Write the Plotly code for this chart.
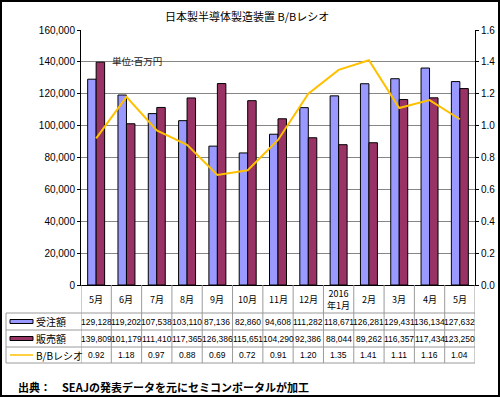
import plotly.graph_objects as go

months = ["5月", "6月", "7月", "8月", "9月", "10月", "11月", "12月",
          "2016年1月", "2月", "3月", "4月", "5月 "]
month_labels = ["5月", "6月", "7月", "8月", "9月", "10月", "11月", "12月",
                "2016<br>年1月", "2月", "3月", "4月", "5月"]
orders = [129128, 119202, 107538, 103110, 87136, 82860, 94608, 111282,
          118671, 126281, 129431, 136134, 127632]
sales = [139809, 101179, 111410, 117365, 126386, 115651, 104290, 92386,
         88044, 89262, 116357, 117434, 123250]
bb_ratio = [0.92, 1.18, 0.97, 0.88, 0.69, 0.72, 0.91, 1.20,
            1.35, 1.41, 1.11, 1.16, 1.04]

W, H = 500, 397
def px(x):
    return x / W
def py(y):
    return 1 - y / H

BLUE = "#9999FF"
MAROON = "#993366"
GOLD = "#FFC000"
GRID = "#868686"
TBL = "#9a9a9a"
FONT = "Liberation Sans, Arial, sans-serif"
JFONT = "Noto Sans CJK JP, sans-serif"

fig = go.Figure()
fig.add_trace(go.Bar(x=months, y=orders, name="受注額",
                     marker=dict(color=BLUE, line=dict(color="black", width=1))))
fig.add_trace(go.Bar(x=months, y=sales, name="販売額",
                     marker=dict(color=MAROON, line=dict(color="black", width=1))))
fig.add_trace(go.Scatter(x=months, y=bb_ratio, name="B/Bレシオ", yaxis="y2",
                         mode="lines", line=dict(color=GOLD, width=2)))

plot_top, plot_bot = 30, 285
row_y = [285, 313, 330, 347, 363]
x_left, x_right = 81, 475
tbl_left = 6

shapes = []
# outer border
shapes.append(dict(type="rect", xref="paper", yref="paper", x0=0.002, x1=0.998,
                   y0=0.0025, y1=0.9975, line=dict(color="black", width=2)))
# horizontal table lines
for yy in row_y[1:]:
    shapes.append(dict(type="line", xref="paper", yref="paper",
                       x0=px(tbl_left), x1=px(x_right), y0=py(yy), y1=py(yy),
                       line=dict(color=TBL, width=1)))
# vertical lines between categories
for i in range(len(months) + 1):
    shapes.append(dict(type="line", xref="x", yref="paper",
                       x0=i - 0.5, x1=i - 0.5, y0=py(285), y1=py(363),
                       line=dict(color=TBL, width=1)))
shapes.append(dict(type="line", xref="paper", yref="paper",
                   x0=px(tbl_left), x1=px(tbl_left), y0=py(313), y1=py(363),
                   line=dict(color=TBL, width=1)))
# legend keys
for (r0, r1), col in zip([(313, 330), (330, 347)], [BLUE, MAROON]):
    yc = (r0 + r1) / 2
    shapes.append(dict(type="rect", xref="paper", yref="paper",
                       x0=px(10), x1=px(33), y0=py(yc + 2), y1=py(yc - 2),
                       fillcolor=col, line=dict(color="black", width=1)))
yc = (347 + 363) / 2
shapes.append(dict(type="line", xref="paper", yref="paper",
                   x0=px(10), x1=px(33), y0=py(yc), y1=py(yc),
                   line=dict(color=GOLD, width=1.5)))

def ann(text, x, y, size, family=JFONT, xref="paper", xanchor="center", color="black"):
    return dict(text=text, xref=xref, yref="paper", x=x, y=y,
                xanchor=xanchor, yanchor="middle", showarrow=False,
                font=dict(family=family, size=size, color=color))

annotations = []
annotations.append(ann("日本製半導体製造装置 B/Bレシオ", px(247), py(16), 11))
annotations.append(ann("単位:百万円", px(110), py(61), 9.5, xanchor="left", color="#222"))
annotations.append(ann("<b>出典：　SEAJの発表データを元にセミコンポータルが加工</b>",
                       px(16), py(387), 11, xanchor="left"))
for (r0, r1), lab in zip([(313, 330), (330, 347), (347, 363)],
                         ["受注額", "販売額", "B/Bレシオ"]):
    annotations.append(ann(lab, px(34), py((r0 + r1) / 2), 10, xanchor="left"))
for m, lab, o, s, b in zip(months, month_labels, orders, sales, bb_ratio):
    annotations.append(ann(lab, m, py(299), 9, xref="x"))
    annotations.append(ann(f"{o:,}", m, py(321.5), 8.5, family=FONT, xref="x"))
    annotations.append(ann(f"{s:,}", m, py(338.5), 8.5, family=FONT, xref="x"))
    annotations.append(ann(f"{b:.2f}", m, py(355), 8.5, family=FONT, xref="x"))

fig.update_layout(
    width=W, height=H,
    margin=dict(l=0, r=0, t=0, b=0),
    paper_bgcolor="white", plot_bgcolor="white",
    showlegend=False,
    barmode="group", bargap=0.44, bargroupgap=0,
    xaxis=dict(domain=[px(x_left), px(x_right)], range=[-0.5, len(months) - 0.5],
               showticklabels=False, showline=True, linecolor="black",
               linewidth=1, ticks="", showgrid=False, automargin=False),
    yaxis=dict(domain=[py(plot_bot), py(plot_top)], range=[0, 160000], dtick=20000,
               tickformat=",", showgrid=True, gridcolor=GRID, gridwidth=1,
               showline=True, linecolor="black", linewidth=1,
               ticks="outside", ticklen=3, tickcolor="black",
               tickfont=dict(family=FONT, size=10, color="black"),
               zeroline=False, automargin=False),
    yaxis2=dict(overlaying="y", side="right", range=[0, 1.6], dtick=0.2,
                tickformat=".1f", showgrid=False, showline=True,
                linecolor="black", linewidth=1, ticks="outside", ticklen=3,
                tickcolor="black",
                tickfont=dict(family=FONT, size=10, color="black"),
                zeroline=False, automargin=False),
    shapes=shapes,
    annotations=annotations,
)

fig.write_html("out.html",
               config={"displayModeBar": False},
               post_script="document.body.style.margin='0px';document.body.style.overflow='hidden';")
